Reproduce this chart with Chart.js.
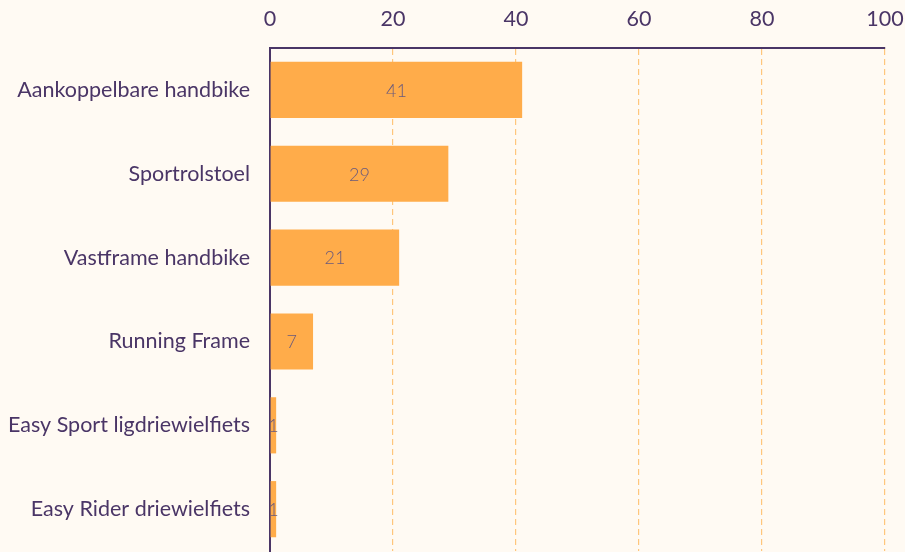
<!DOCTYPE html>
<html>
<head>
<meta charset="utf-8">
<script src="https://cdn.jsdelivr.net/npm/chart.js@4/dist/chart.umd.min.js"></script>
<style>
  body { margin: 0; background: #fffaf3; overflow: hidden; }
  #wrap { width: 905px; height: 584px; position: relative; }
</style>
</head>
<body>
<div id="wrap"><canvas id="myBarChart"></canvas></div>
<script>
const categories = [
  "Aankoppelbare handbike",
  "Sportrolstoel",
  "Vastframe handbike",
  "Running Frame",
  "Easy Sport ligdriewielfiets",
  "Easy Rider driewielfiets"
];
const values = [41, 29, 21, 7, 1, 1];
const tickValues = [0, 20, 40, 60, 80, 100];

const purple = "#4a3566";

// draws the value in the middle of each bar
const barLabels = {
  id: "barLabels",
  afterDatasetsDraw(chart) {
    const ctx = chart.ctx;
    const meta = chart.getDatasetMeta(0);
    ctx.save();
    ctx.font = "300 18px Lato";
    ctx.fillStyle = "#6a5a7c";
    ctx.textAlign = "center";
    ctx.textBaseline = "middle";
    meta.data.forEach((bar, i) => {
      const x = (bar.x + bar.base) / 2;
      ctx.fillText(values[i], x, bar.y + 1);
    });
    ctx.restore();
  }
};

new Chart(document.getElementById("myBarChart").getContext("2d"), {
  type: "bar",
  data: {
    labels: categories,
    datasets: [
      {
        data: values,
        backgroundColor: "#ffac4a",
        barPercentage: 0.67,
        categoryPercentage: 1
      }
    ]
  },
  options: {
    indexAxis: "y",
    responsive: true,
    maintainAspectRatio: false,
    animation: false,
    layout: { padding: 0 },
    plugins: { legend: { display: false }, tooltip: { enabled: false } },
    scales: {
      x: {
        position: "top",
        min: 0,
        max: 100,
        afterBuildTicks: (scale) => {
          scale.ticks = tickValues.map((v) => ({ value: v }));
        },
        afterFit: (scale) => {
          scale.height = 48;
          scale.paddingLeft = 0;
          scale.paddingRight = 20;
        },
        grid: { color: "#ffc67c", lineWidth: 1.2, drawTicks: false },
        border: { display: true, color: purple, width: 2, dash: [6, 4] },
        ticks: { color: purple, font: { family: "Lato", size: 21.5 }, padding: 16 }
      },
      y: {
        afterFit: (scale) => { scale.width = 270; },
        grid: { display: false, drawTicks: false },
        border: { display: true, color: purple, width: 2 },
        ticks: { color: purple, font: { family: "Lato", size: 21.5 }, padding: 20 }
      }
    }
  },
  plugins: [barLabels]
});
</script>
</body>
</html>
